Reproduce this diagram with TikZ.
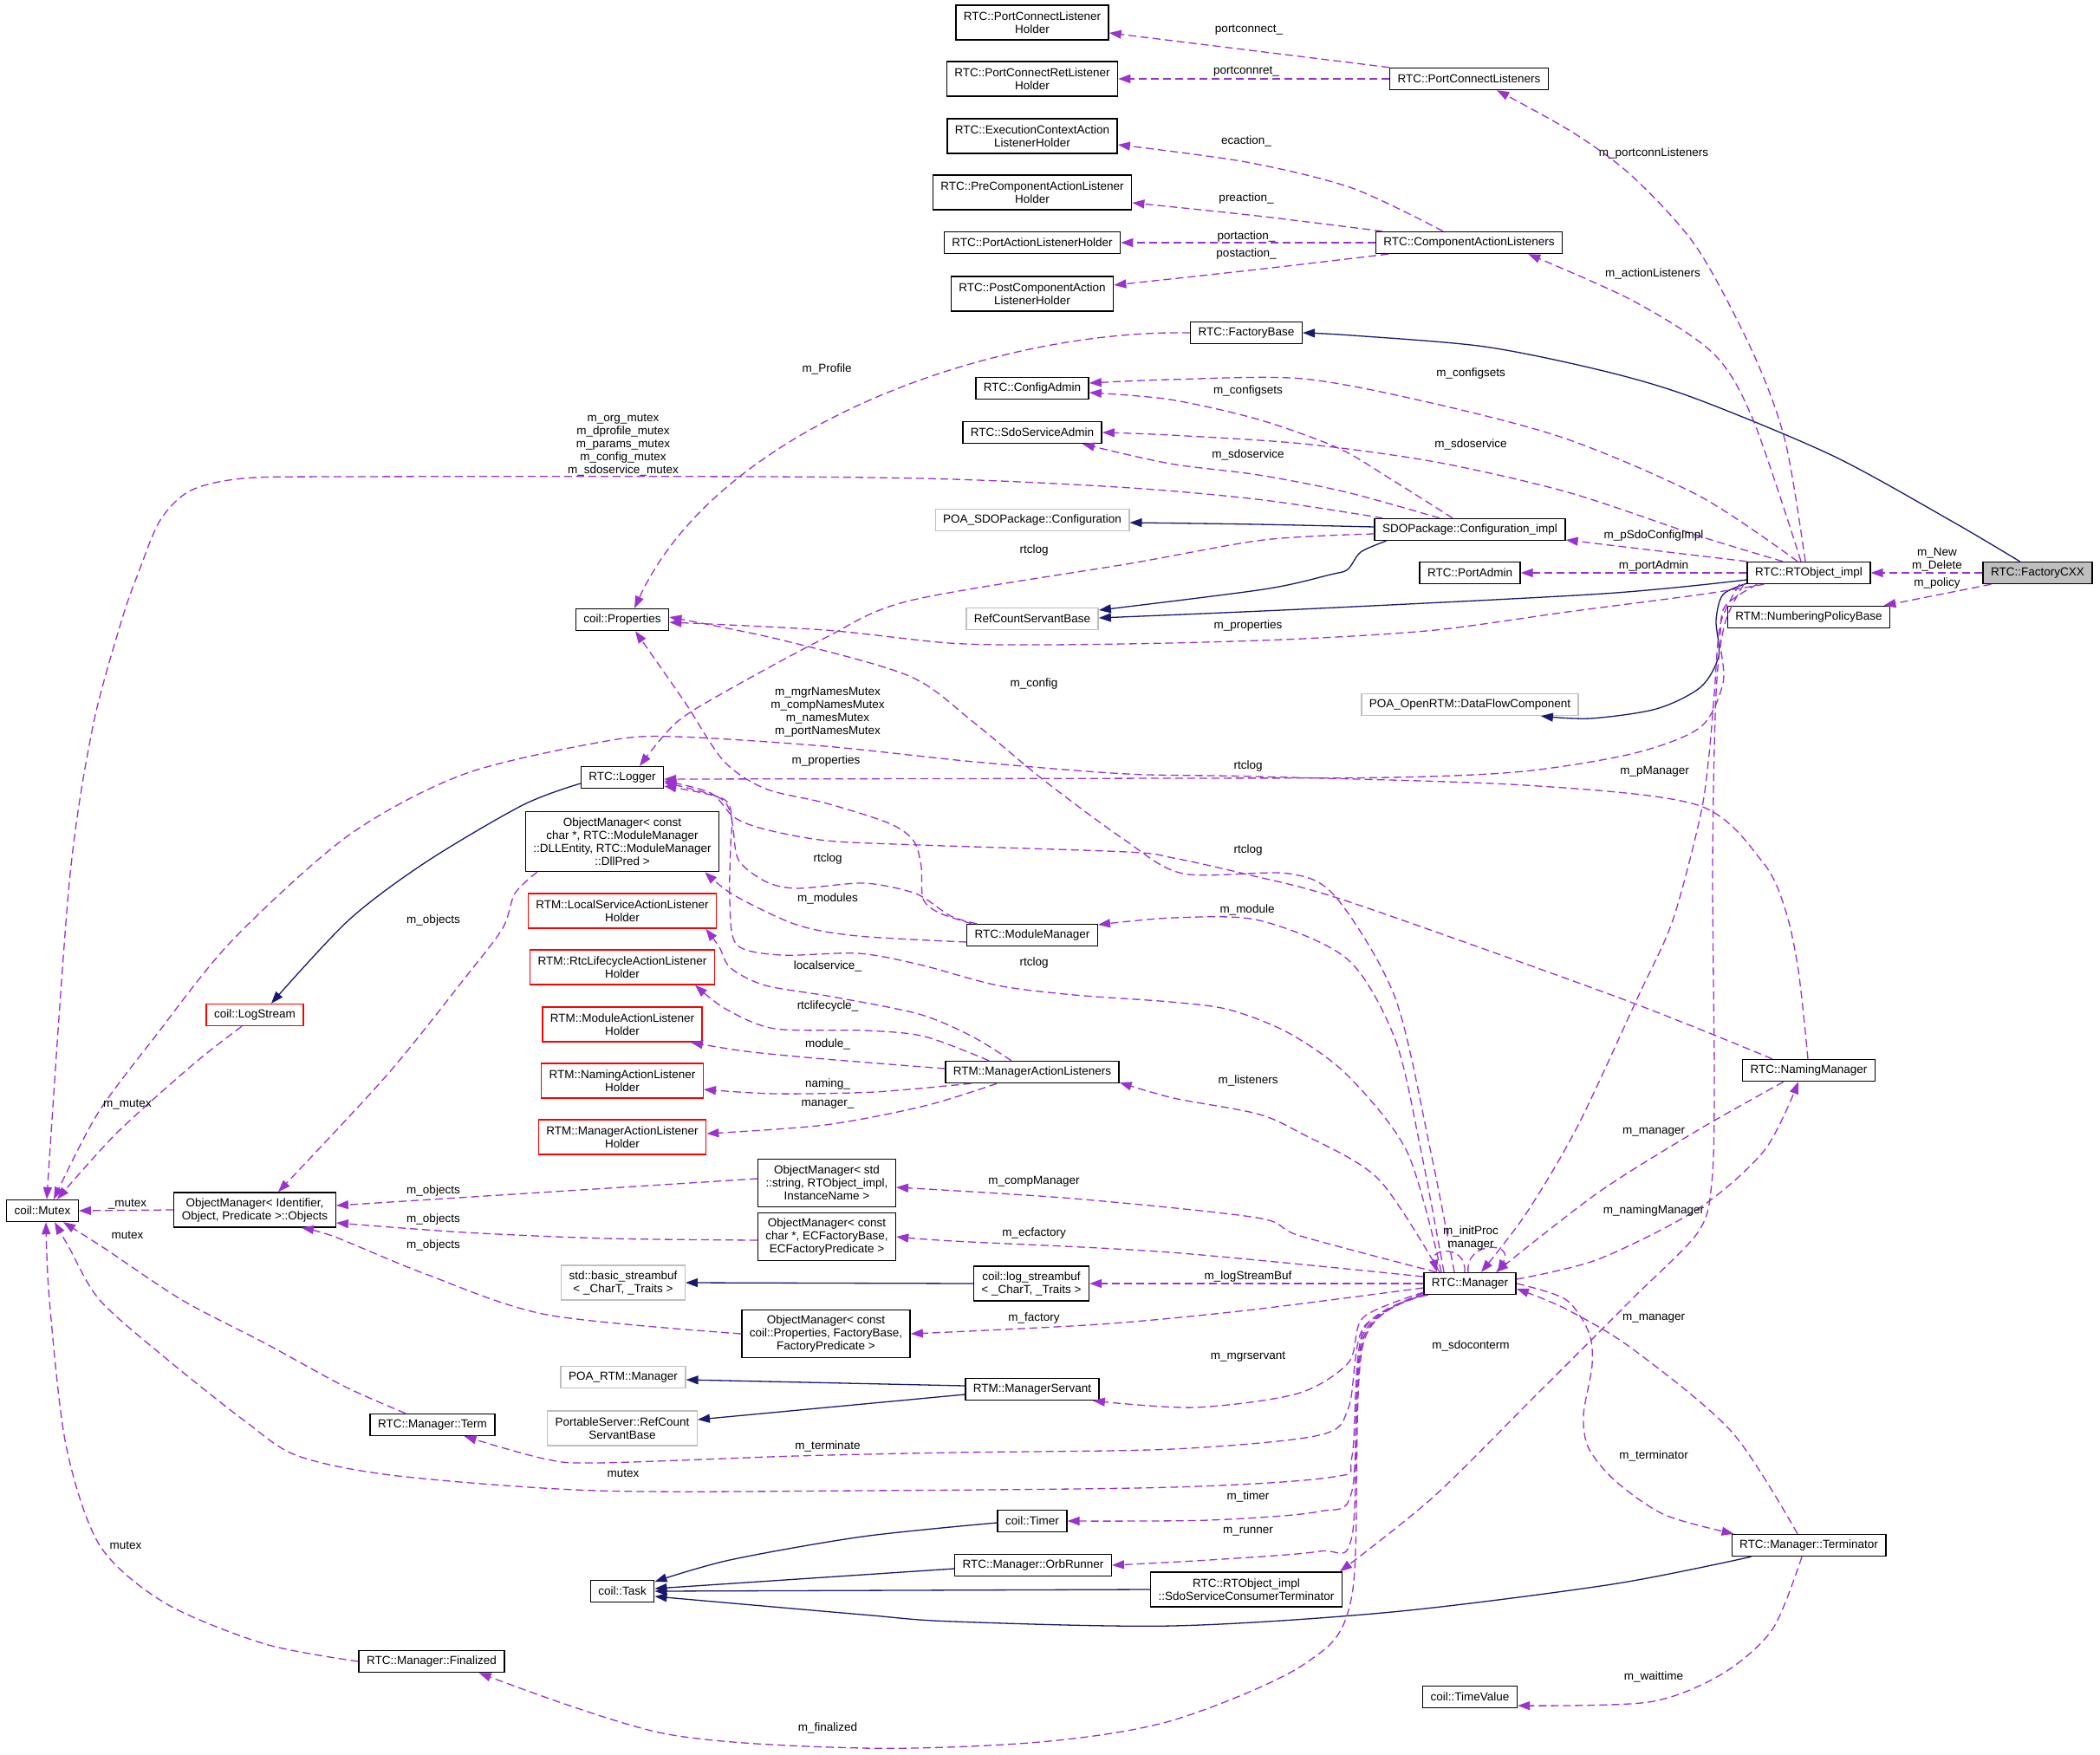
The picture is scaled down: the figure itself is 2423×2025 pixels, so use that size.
\documentclass[tikz,border=0pt]{standalone}
\usepackage{fontspec}
\setmainfont{Liberation Sans}
\usetikzlibrary{arrows.meta,calc}
\definecolor{dorchid}{HTML}{9A32CD}
\definecolor{navyb}{HTML}{191970}
\definecolor{extgray}{HTML}{BFBFBF}
\newcommand\dxfont{\fontsize{13.5}{15}\selectfont}
\tikzset{
 cls/.style={draw=black, line width=1.4pt, fill=white, font=\dxfont, inner xsep=9pt, inner ysep=3pt, minimum height=25pt, align=center},
 clstwo/.style={cls, minimum height=40pt},
 clsthree/.style={cls, minimum height=55pt},
 clsfour/.style={cls, minimum height=69pt},
 ext/.style={draw=extgray},
 trunc/.style={draw=red},
 dep/.style={draw=dorchid, line width=1.3pt, dash pattern=on 9pt off 5pt, -{Triangle[length=14pt,width=10pt]}},
 inh/.style={draw=navyb, line width=1.3pt, -{Triangle[length=14pt,width=10pt]}},
 lbl/.style={font=\dxfont, inner sep=0pt, align=center},
}
\begin{document}
\begin{tikzpicture}[x=1pt,y=-1pt]
\fill[white] (0,0) rectangle (2423,2025);
\useasboundingbox (0,0) rectangle (2423,2025);
% ---------- nodes ----------
\node[clstwo] (pclh) at (1191,26) {RTC::PortConnectListener\\Holder};
\node[clstwo] (pcrlh) at (1191,91) {RTC::PortConnectRetListener\\Holder};
\node[clstwo] (ecalh) at (1191,157) {RTC::ExecutionContextAction\\ListenerHolder};
\node[clstwo] (precalh) at (1191,222) {RTC::PreComponentActionListener\\Holder};
\node[cls] (palh) at (1191,280) {RTC::PortActionListenerHolder};
\node[clstwo] (postcalh) at (1191,339) {RTC::PostComponentAction\\ListenerHolder};
\node[cls] (pcl) at (1695,91) {RTC::PortConnectListeners};
\node[cls] (cal) at (1695,280) {RTC::ComponentActionListeners};
\node[cls] (factorybase) at (1438,384) {RTC::FactoryBase};
\node[cls] (configadmin) at (1191,448) {RTC::ConfigAdmin};
\node[cls] (sdoadmin) at (1191,499) {RTC::SdoServiceAdmin};
\node[cls,ext] (poasdo) at (1191,600) {POA\_SDOPackage::Configuration};
\node[cls] (confimpl) at (1696,611) {SDOPackage::Configuration\_impl};
\node[cls] (portadmin) at (1696,661) {RTC::PortAdmin};
\node[cls,ext] (refcount) at (1191,714) {RefCountServantBase};
\node[cls] (rtobject) at (2087,661) {RTC::RTObject\_impl};
\node[cls,fill=extgray] (factorycxx) at (2351,661) {RTC::FactoryCXX};
\node[cls] (numbering) at (2087,712) {RTM::NumberingPolicyBase};
\node[cls,ext] (dataflow) at (1696,813) {POA\_OpenRTM::DataFlowComponent};
\node[cls] (properties) at (718,715) {coil::Properties};
\node[cls] (logger) at (718,897) {RTC::Logger};
\node[clsfour] (dllmgr) at (718,971) {ObjectManager< const\\char *, RTC::ModuleManager\\::DLLEntity, RTC::ModuleManager\\::DllPred >};
\node[clstwo,trunc] (localsvc) at (718,1051) {RTM::LocalServiceActionListener\\Holder};
\node[clstwo,trunc] (rtclife) at (718,1116) {RTM::RtcLifecycleActionListener\\Holder};
\node[clstwo,trunc] (moduleal) at (718,1182) {RTM::ModuleActionListener\\Holder};
\node[clstwo,trunc] (namingal) at (718,1247) {RTM::NamingActionListener\\Holder};
\node[clstwo,trunc] (manageral) at (718,1312) {RTM::ManagerActionListener\\Holder};
\node[cls] (modulemgr) at (1191,1079) {RTC::ModuleManager};
\node[cls] (mal) at (1191,1237) {RTM::ManagerActionListeners};
\node[cls] (namingmgr) at (2087,1235) {RTC::NamingManager};
\node[cls,trunc] (logstream) at (294,1171) {coil::LogStream};
\node[cls] (mutex) at (49,1397) {coil::Mutex};
\node[clstwo] (objects) at (294,1396) {ObjectManager< Identifier,\\Object, Predicate >::Objects};
\node[clsthree] (omstd) at (954,1365) {ObjectManager< std\\::string, RTObject\_impl,\\InstanceName >};
\node[clsthree] (omec) at (954,1427) {ObjectManager< const\\char *, ECFactoryBase,\\ECFactoryPredicate >};
\node[clstwo,ext] (basicsb) at (719,1480) {std::basic\_streambuf\\< \_CharT, \_Traits >};
\node[clstwo] (logsb) at (1190,1481) {coil::log\_streambuf\\< \_CharT, \_Traits >};
\node[cls] (manager) at (1696,1481) {RTC::Manager};
\node[clsthree] (omfac) at (953,1539) {ObjectManager< const\\coil::Properties, FactoryBase,\\FactoryPredicate >};
\node[cls,ext] (poartm) at (719,1589) {POA\_RTM::Manager};
\node[cls] (mgrservant) at (1191,1603) {RTM::ManagerServant};
\node[clstwo,ext] (pssb) at (718,1648) {PortableServer::RefCount\\ServantBase};
\node[cls] (term) at (499,1644) {RTC::Manager::Term};
\node[cls] (timer) at (1191,1755) {coil::Timer};
\node[cls] (terminator) at (2087,1783) {RTC::Manager::Terminator};
\node[cls] (orbrunner) at (1192,1806) {RTC::Manager::OrbRunner};
\node[clstwo] (sdosct) at (1438,1834) {RTC::RTObject\_impl\\::SdoServiceConsumerTerminator};
\node[cls] (task) at (718,1836) {coil::Task};
\node[cls] (finalized) at (498,1917) {RTC::Manager::Finalized};
\node[cls] (timevalue) at (1696,1958) {coil::TimeValue};
% ---------- inheritance ----------
\draw[inh] plot[smooth] coordinates {($(factorycxx.north west)+(43,0)$) (2253,602) (2115,526) (1954,459) (1850,428) (1713,400) (1560,387) (factorybase.east)};
\draw[inh] plot[smooth] coordinates {($(confimpl.west)+(0,-3)$) (1450,605) ($(poasdo.east)+(0,3)$)};
\draw[inh] plot[smooth] coordinates {($(confimpl.south west)+(14,0)$) (1570,637) (1555,657) (1535,663) (1458,680) ($(refcount.east)+(0,-10)$)};
\draw[inh] plot[smooth] coordinates {($(rtobject.west)+(0,8)$) (1850,685) (1500,703) ($(refcount.east)+(0,-1)$)};
\draw[inh] plot[smooth] coordinates {($(rtobject.south west)+(0,-1)$) (1988,686) (1980,716) (1983,757) (1962,793) (1911,818) (1835,829) ($(dataflow.south east)+(-44,0)$)};
\draw[inh] plot[smooth] coordinates {($(logger.west)+(0,7)$) (603,929) (491,995) (402,1062) ($(logstream.north)+(19,0)$)};
\draw[inh] (logsb.west) -- (basicsb.east);
\draw[inh] ($(mgrservant.west)+(0,-4)$) -- ($(poartm.east)+(0,3)$);
\draw[inh] ($(mgrservant.west)+(0,6)$) -- ($(pssb.east)+(0,-10)$);
\draw[inh] plot[smooth] coordinates {($(timer.west)+(0,2)$) (995,1773) (842,1800) ($(task.east)+(0,-11)$)};
\draw[inh] ($(orbrunner.west)+(0,4)$) -- ($(task.east)+(0,-3)$);
\draw[inh] (sdosct.west) -- (task.east);
\draw[inh] plot[smooth] coordinates {($(terminator.south west)+(23,0)$) (1860,1828) (1606,1860) (1353,1876) (1100,1871) (995,1863) ($(task.east)+(0,6)$)};
% ---------- usage ----------
\draw[dep] (pcl.north west) -- ($(pclh.east)+(0,12)$);
\draw[dep] (pcl.west) -- (pcrlh.east);
\draw[dep] plot[smooth] coordinates {($(cal.north)+(-30,0)$) (1560,217) (1438,187) ($(ecalh.east)+(0,10)$)};
\draw[dep] plot[smooth] coordinates {($(cal.north west)+(8,0)$) (1450,249) ($(precalh.east)+(0,12)$)};
\draw[dep] (cal.west) -- (palh.east);
\draw[dep] plot[smooth] coordinates {($(cal.south west)+(15,0)$) (1450,311) ($(postcalh.east)+(0,-10)$)};
\draw[dep] plot[smooth] coordinates {($(rtobject.north)+(-4,0)$) (2060,510) (2023,408) (1958,286) (1884,204) (1815,153) ($(pcl.south east)+(-60,0)$)};
\draw[dep] plot[smooth] coordinates {($(rtobject.north)+(-9,0)$) (2023,485) (1977,408) (1884,347) ($(cal.south east)+(-40,0)$)};
\draw[dep] (factorybase.west) .. controls (1150,380) and (830,490) .. ($(properties.north)+(14,0)$);
\draw[dep] plot[smooth] coordinates {($(rtobject.north)+(-13,0)$) (1962,573) (1809,507) (1656,466) (1503,437) (1350,438) ($(configadmin.east)+(0,-6)$)};
\draw[dep] plot[smooth] coordinates {($(confimpl.north)+(-20,0)$) (1605,553) (1544,517) (1452,484) (1350,461) ($(configadmin.east)+(0,5)$)};
\draw[dep] plot[smooth] coordinates {($(rtobject.north)+(-30,0)$) (1962,619) (1809,568) (1656,533) (1503,512) (1350,502) (sdoadmin.east)};
\draw[dep] plot[smooth] coordinates {($(confimpl.north)+(-35,0)$) (1554,568) (1452,548) (1350,535) ($(sdoadmin.south east)+(-23,0)$)};
\draw[dep] plot[smooth] coordinates {($(confimpl.north west)+(10,0)$) (1458,577) (1305,563) (1100,553) (877,550) (400,550) (281,552) (220,566) (185,600) (160,660) (140,717) (107,839) (80,1018) ($(mutex.north)+(5,0)$)};
\draw[dep] plot[smooth] coordinates {($(confimpl.west)+(0,5)$) (1458,623) (1305,650) (1050,693) (952,736) (837,798) (780,834) ($(logger.north)+(20,0)$)};
\draw[dep] (rtobject.north west) -- ($(confimpl.east)+(0,12)$);
\draw[dep] (rtobject.west) -- (portadmin.east);
\draw[dep] plot[smooth] coordinates {($(rtobject.south west)+(20,0)$) (1962,686) (1809,706) (1656,727) (1503,737) (1350,742) (1200,744) (1095,742) (952,727) ($(properties.east)+(0,3)$)};
\draw[dep] (factorycxx.west) -- (rtobject.east);
\draw[dep] ($(factorycxx.south west)+(10,0)$) -- ($(numbering.north east)+(-8,0)$);
\draw[dep] plot[smooth] coordinates {($(rtobject.south west)+(12,0)$) (1990,700) (1985,740) (1988,788) (1962,839) (1886,869) (1758,890) (1605,897) (1350,898) ($(logger.east)+(0,2)$)};
\draw[dep] plot[smooth] coordinates {($(rtobject.south)+(-80,0)$) (1985,720) (1978,800) (1972,870) (1962,941) (1930,1062) (1890,1150) (1820,1300) (1761,1400) ($(manager.north)+(13,0)$)};
\draw[dep] plot[smooth] coordinates {($(rtobject.south)+(-75,0)$) (1990,720) (1980,800) (1976,1000) (1978,1250) (1975,1365) (1959,1422) (1883,1499) (1768,1614) (1653,1728) ($(sdosct.north east)+(-3,0)$)};
% manager edges
\draw[dep] plot[smooth] coordinates {($(manager.north)+(-30,0)$) (1640,1330) (1610,1200) (1555,1107) (1453,1062) (1354,1059) ($(modulemgr.east)+(0,-12)$)};
\draw[dep] plot[smooth] coordinates {($(manager.north)+(-35,0)$) (1590,1360) (1500,1307) (1450,1285) (1354,1267) ($(mal.east)+(0,12)$)};
\draw[dep] plot[smooth] coordinates {($(manager.north)+(-33,0)$) (1624,1330) (1555,1241) (1487,1192) (1418,1165) (1350,1156) (1239,1148) (1151,1137) (1061,1113) (990,1100) (901,1102) (850,1090) (842,1040) (843,975) (844,943) (829,920) ($(logger.east)+(0,10)$)};
\draw[dep] plot[smooth] coordinates {($(manager.north)+(-18,0)$) (1651,1330) (1610,1152) (1542,1036) (1487,1008) (1365,1008) (1296,968) (1204,900) (1124,834) (1049,780) (900,738) ($(properties.east)+(0,-3)$)};
\draw[dep] plot[smooth] coordinates {($(modulemgr.north west)+(6,0)$) (1083,1053) (1065,1037) (1063,1000) (1054,970) (1026,950) (954,927) (883,910) (835,878) (790,810) ($(properties.south)+(15,0)$)};
\draw[dep] plot[smooth] coordinates {($(modulemgr.north west)+(12,0)$) (1097,1057) (1061,1033) (1026,1023) (990,1019) (919,1025) (883,1017) (852,992) (845,950) (835,922) ($(logger.east)+(0,6)$)};
\draw[dep] plot[smooth] coordinates {($(modulemgr.west)+(0,8)$) (990,1080) (919,1067) (847,1033) ($(dllmgr.south east)+(-17,0)$)};
\draw[dep] plot[smooth] coordinates {($(mal.north)+(-24,0)$) (1120,1195) (1060,1170) (960,1150) (883,1137) (843,1117) (830,1093) ($(localsvc.south east)+(-13,0)$)};
\draw[dep] plot[smooth] coordinates {($(mal.north)+(-50,0)$) (1067,1196) (998,1189) (894,1187) (837,1164) ($(rtclife.south east)+(-23,0)$)};
\draw[dep] plot[smooth] coordinates {($(mal.west)+(0,-4)$) (952,1222) (860,1213) ($(moduleal.south east)+(-14,0)$)};
\draw[dep] plot[smooth] coordinates {($(mal.south west)+(30,0)$) (1009,1260) (894,1262) ($(namingal.east)+(0,10)$)};
\draw[dep] plot[smooth] coordinates {($(mal.south west)+(60,0)$) (1067,1276) (952,1298) ($(manageral.east)+(0,-4)$)};
\draw[dep] plot[smooth] coordinates {($(manager.north west)+(15,0)$) (1500,1426) (1450,1405) (1239,1383) ($(omstd.east)+(0,5)$)};
\draw[dep] plot[smooth] coordinates {($(manager.west)+(0,-8)$) (1350,1445) (1100,1432) (omec.east)};
\draw[dep] (manager.west) -- (logsb.east);
\draw[dep] plot[smooth] coordinates {($(manager.west)+(0,5)$) (1438,1512) (1269,1528) (omfac.east)};
\draw[dep] plot[smooth] coordinates {($(manager.south west)+(0,-3)$) (1573,1520) (1556,1572) (1497,1608) (1378,1624) ($(mgrservant.south east)+(-8,0)$)};
\draw[dep] plot[smooth] coordinates {($(manager.south west)+(0,-2)$) (1573,1532) (1556,1624) (1522,1656) (1353,1672) (1100,1676) (918,1680) (689,1688) (627,1683) ($(term.south east)+(-36,0)$)};
\draw[dep] plot[smooth] coordinates {(manager.south west) (1573,1535) (1560,1680) (1539,1704) (1353,1716) (995,1720) (689,1720) (459,1703) (344,1680) (283,1640) (191,1567) (115,1500) (80,1440) ($(mutex.south)+(14,0)$)};
\draw[dep] plot[smooth] coordinates {($(term.north)+(-31,0)$) (398,1600) (306,1550) (210,1500) (120,1440) ($(mutex.south east)+(-18,0)$)};
\draw[dep] plot[smooth] coordinates {(finalized.west) (306,1897) (191,1850) (115,1783) (76,1667) (57,1500) ($(mutex.south)+(4,0)$)};
\draw[dep] plot[smooth] coordinates {($(manager.south west)+(2,0)$) (1573,1540) (1560,1720) (1522,1744) (1395,1754) (timer.east)};
\draw[dep] plot[smooth] coordinates {($(manager.south west)+(4,0)$) (1573,1545) (1560,1772) (1522,1790) (1395,1800) (orbrunner.east)};
\draw[dep] plot[smooth] coordinates {($(manager.south west)+(6,0)$) (1573,1550) (1560,1840) (1505,1920) (1353,1985) (1200,2010) (995,2017) (765,2000) ($(finalized.south east)+(-30,0)$)};
\draw[dep] plot[smooth] coordinates {(manager.east) (1806,1499) (1833,1537) (1837,1575) (1827,1633) (1833,1671) (1864,1709) (1921,1748) ($(terminator.north west)+(3,0)$)};
\draw[dep] plot[smooth] coordinates {($(terminator.north)+(-13,0)$) (1998,1652) (1883,1556) (1806,1510) ($(manager.east)+(0,6)$)};
\draw[dep] plot[smooth] coordinates {($(terminator.south)+(-8,0)$) (2045,1880) (1986,1932) (1902,1964) ($(timevalue.east)+(0,10)$)};
\draw[dep] plot[smooth] coordinates {($(manager.east)+(0,-5)$) (1844,1453) (1959,1395) (2036,1327) ($(namingmgr.south)+(-12,0)$)};
\draw[dep] plot[smooth] coordinates {($(namingmgr.south west)+(48,0)$) (1959,1304) (1844,1376) ($(manager.north)+(30,0)$)};
\draw[dep] plot[smooth] coordinates {($(namingmgr.north)+(-1,0)$) (2075,1120) (2060,1050) (2034,995) (1959,929) (1760,906) (1450,896) (1300,893) (1124,879) (952,861) (780,850) (700,855) (536,893) (402,964) (268,1085) (179,1196) (112,1286) ($(mutex.north)+(13,0)$)};
\draw[dep] plot[smooth] coordinates {($(namingmgr.north west)+(35,0)$) (1870,1152) (1555,1040) (1439,1009) (1354,990) (1300,983) (1061,975) (954,970) (883,957) (847,943) (820,915) ($(logger.east)+(0,4)$)};
\draw[dep] ($(manager.north)+(-2,0)$) .. controls (1690,1432) and (1748,1432) .. ($(manager.north)+(32,0)$);
\draw[dep] ($(manager.north)+(-6,0)$) .. controls (1692,1436) and (1650,1440) .. ($(manager.north)+(-38,0)$);
% object managers
\draw[dep] plot[smooth] coordinates {($(dllmgr.south west)+(14,0)$) (594,1031) (580,1071) (536,1129) (446,1241) ($(objects.north)+(27,0)$)};
\draw[dep] ($(omstd.west)+(0,-5)$) -- ($(objects.east)+(0,-5)$);
\draw[dep] plot[smooth] coordinates {($(omec.west)+(0,4)$) (700,1429) (536,1422) ($(objects.east)+(0,15)$)};
\draw[dep] plot[smooth] coordinates {(omfac.west) (631,1517) (491,1470) (386,1427) ($(objects.south east)+(-40,0)$)};
\draw[dep] (objects.west) -- (mutex.east);
\draw[dep] plot[smooth] coordinates {($(logstream.south)+(-15,0)$) (223,1228) (134,1308) ($(mutex.north east)+(-25,0)$)};
% ---------- labels ----------
\node[lbl] (l1) at (1441,35) {portconnect\_};
\node[lbl] (l2) at (1438,83) {portconnret\_};
\node[lbl] (l3) at (1438,163) {ecaction\_};
\node[lbl] (l4) at (1438,229) {preaction\_};
\node[lbl] (l5) at (1438,273) {portaction\_};
\node[lbl] (l6) at (1438,293) {postaction\_};
\node[lbl] (l7) at (1908,177) {m\_portconnListeners};
\node[lbl] (l8) at (1907,316) {m\_actionListeners};
\node[lbl] (l9) at (954,426) {m\_Profile};
\node[lbl] (l10) at (1697,431) {m\_configsets};
\node[lbl] (l11) at (1440,451) {m\_configsets};
\node[lbl] (l12) at (1697,513) {m\_sdoservice};
\node[lbl] (l13) at (1440,525) {m\_sdoservice};
\node[lbl] (l14) at (719,513) {m\_org\_mutex\\m\_dprofile\_mutex\\m\_params\_mutex\\m\_config\_mutex\\m\_sdoservice\_mutex};
\node[lbl] (l15) at (1193,635) {rtclog};
\node[lbl] (l16) at (1908,618) {m\_pSdoConfigImpl};
\node[lbl] (l17) at (1908,653) {m\_portAdmin};
\node[lbl] (l18) at (2235,646) {m\_New\\m\_Delete};
\node[lbl] (l19) at (2235,673) {m\_policy};
\node[lbl] (l20) at (1440,722) {m\_properties};
\node[lbl] (l21) at (1193,789) {m\_config};
\node[lbl] (l22) at (955,822) {m\_mgrNamesMutex\\m\_compNamesMutex\\m\_namesMutex\\m\_portNamesMutex};
\node[lbl] (l23) at (953,878) {m\_properties};
\node[lbl] (l24) at (1440,884) {rtclog};
\node[lbl] (l25) at (1909,890) {m\_pManager};
\node[lbl] (l26) at (1440,981) {rtclog};
\node[lbl] (l27) at (955,991) {rtclog};
\node[lbl] (l28) at (955,1037) {m\_modules};
\node[lbl] (l29) at (1439,1050) {m\_module};
\node[lbl] (l30) at (500,1062) {m\_objects};
\node[lbl] (l31) at (1193,1111) {rtclog};
\node[lbl] (l32) at (955,1115) {localservice\_};
\node[lbl] (l33) at (955,1161) {rtclifecycle\_};
\node[lbl] (l34) at (955,1205) {module\_};
\node[lbl] (l35) at (1440,1247) {m\_listeners};
\node[lbl] (l36) at (955,1251) {naming\_};
\node[lbl] (l37) at (147,1274) {m\_mutex};
\node[lbl] (l38) at (955,1274) {manager\_};
\node[lbl] (l39) at (1908,1306) {m\_manager};
\node[lbl] (l40) at (1193,1363) {m\_compManager};
\node[lbl] (l41) at (500,1374) {m\_objects};
\node[lbl] (l42) at (147,1389) {\_mutex};
\node[lbl] (l43) at (1908,1397) {m\_namingManager};
\node[lbl] (l44) at (500,1407) {m\_objects};
\node[lbl] (l45) at (1697,1428) {m\_initProc\\manager};
\node[lbl] (l46) at (1193,1423) {m\_ecfactory};
\node[lbl] (l47) at (147,1425) {mutex};
\node[lbl] (l48) at (500,1437) {m\_objects};
\node[lbl] (l49) at (1440,1473) {m\_logStreamBuf};
\node[lbl] (l50) at (1193,1521) {m\_factory};
\node[lbl] (l51) at (1908,1521) {m\_manager};
\node[lbl] (l52) at (1697,1553) {m\_sdoconterm};
\node[lbl] (l53) at (1440,1566) {m\_mgrservant};
\node[lbl] (l54) at (955,1669) {m\_terminate};
\node[lbl] (l55) at (1908,1680) {m\_terminator};
\node[lbl] (l56) at (719,1700) {mutex};
\node[lbl] (l57) at (1440,1727) {m\_timer};
\node[lbl] (l58) at (1440,1767) {m\_runner};
\node[lbl] (l59) at (145,1783) {mutex};
\node[lbl] (l60) at (1908,1935) {m\_waittime};
\node[lbl] (l61) at (955,1994) {m\_finalized};
\end{tikzpicture}
\end{document}
